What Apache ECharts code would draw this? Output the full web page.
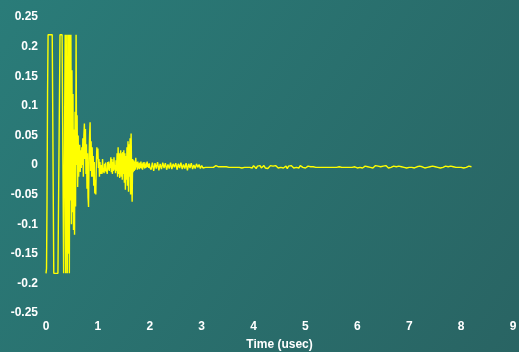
<!DOCTYPE html>
<html>
<head>
<meta charset="utf-8">
<script src="https://cdn.jsdelivr.net/npm/echarts@6/dist/echarts.min.js"></script>
<style>
html,body{margin:0;padding:0;}
#c{width:519px;height:352px;}
</style>
</head>
<body>
<div id="c"></div>
<script>
// Sample grid: early segment every 0.01 usec from 0 to 2.00
var earlyStart = 0, earlyStep = 0.01;
var earlyValues = [
-0.183,-0.175,-0.06,0.12,0.22,0.22,0.22,0.22,0.22,0.22,
0.22,0.22,0.22,0.22,0.22,-0.183,-0.183,-0.183,-0.183,-0.183,
-0.183,-0.183,-0.183,-0.183,-0.183,-0.183,-0.183,0.22,0.22,0.22,
0.22,0.22,0.22,0.22,-0.183,-0.183,-0.183,0.22,-0.183,0.22,
0.22,-0.183,0.22,-0.15,0.22,-0.183,0.22,-0.06,0.22,-0.1,
0.16,-0.08,0.12,-0.11,0.06,-0.118,0.09,-0.07,0.22,0.0,
0.084,-0.037,0.05,-0.02,0.02,0.034,-0.012,0.025,-0.005,0.03,
0.0,0.045,-0.02,0.05,0.07,0.01,0.061,-0.015,0.035,-0.04,
0.02,-0.055,-0.071,0.01,0.05,0.072,-0.01,0.04,-0.02,0.03,
-0.02,0.015,-0.035,0.005,-0.048,-0.025,-0.05,0.0,0.03,0.01,
0.028,-0.005,0.01,-0.02,0.005,-0.015,-0.01,0.0,-0.015,0.01,
-0.012,-0.005,-0.014,0.002,-0.01,0.004,-0.012,-0.006,-0.015,0.005,
-0.008,0.006,-0.01,0.002,-0.005,0.013,-0.012,0.01,-0.015,0.005,
-0.01,0.013,-0.008,0.0,-0.014,0.008,-0.01,0.02,-0.02,0.03,
-0.015,0.02,-0.022,0.01,0.025,-0.02,0.02,-0.025,0.022,-0.015,
0.025,-0.03,0.02,-0.042,0.015,-0.025,0.03,-0.035,0.04,-0.045,
0.035,-0.02,0.045,-0.05,0.053,-0.01,-0.062,0.01,-0.012,0.008,
-0.01,0.006,-0.008,0.012,-0.004,0.005,-0.008,0.006,-0.006,0.003,
-0.007,0.004,-0.005,0.006,-0.006,0.002,-0.008,0.004,-0.004,0.005,
-0.006,0.001,-0.005,0.004,-0.004,0.006,-0.003,0.002,-0.005,0.003,
-0.004
];
// Late segment every 0.025 usec from 2.025 to 8.2
var lateStart = 2.025, lateStep = 0.025;
var lateValues = [
-0.008,0.004,-0.01,0.003,-0.006,0.005,-0.009,0.002,-0.007,0.004,
-0.005,0.003,-0.008,0.001,-0.006,0.004,-0.007,0.002,-0.004,0.003,
-0.008,0.002,-0.005,0.004,-0.007,0.001,-0.006,0.003,-0.009,0.002,
-0.005,0.003,-0.007,0.0,-0.006,0.002,-0.004,0.001,-0.006,-0.001,
-0.005,-0.002,
-0.004,-0.003,-0.004,-0.002,-0.004,-0.003,-0.004,-0.003,-0.001,-0.004,
-0.003,-0.004,-0.003,-0.005,-0.003,-0.004,-0.003,-0.002,-0.004,-0.003,
-0.004,-0.003,-0.004,-0.001,-0.004,-0.003,-0.004,-0.003,-0.005,-0.003,
-0.004,-0.002,-0.004,-0.003,-0.004,
-0.002,-0.005,-0.001,-0.004,-0.006,-0.002,-0.004,-0.001,-0.005,-0.003,
-0.001,-0.005,-0.002,-0.006,-0.003,-0.001,-0.004,-0.002,-0.005,-0.001,
-0.003,-0.005,-0.002,-0.004,-0.001,-0.005,-0.003,-0.002,-0.006,-0.002,
-0.004,-0.001,-0.003,-0.005,-0.002,-0.004,-0.002,-0.005,-0.001,-0.003,
-0.004,-0.002,-0.005,-0.003,-0.002,-0.004,-0.003,-0.004,-0.003,
-0.004,-0.004,-0.004,-0.004,-0.004,-0.004,-0.004,-0.004,-0.004,-0.004,
-0.004,-0.004,-0.004,-0.004,-0.004,-0.004,-0.004,-0.004,-0.004,-0.003,
-0.004,-0.004,-0.004,-0.004,-0.004,-0.004,-0.004,-0.004,-0.004,-0.004,
-0.004,-0.003,
-0.003,-0.005,-0.002,-0.004,-0.001,-0.005,-0.003,-0.002,-0.004,-0.003,
-0.001,-0.004,-0.002,-0.005,-0.003,-0.001,-0.004,-0.002,-0.004,-0.003,
-0.005,-0.002,-0.004,-0.001,-0.003,-0.005,-0.002,-0.004,-0.003,-0.002,
-0.004,-0.003,-0.005,-0.002,-0.004,-0.003,-0.001,-0.004,-0.002,-0.005,
-0.003,-0.004,-0.002,-0.004,-0.003,-0.005,-0.002,-0.003,-0.004,-0.002,
-0.004,-0.003,-0.002,-0.005,-0.003,-0.004,-0.002,-0.003,-0.005,-0.002,
-0.004,-0.003,-0.002,-0.004,-0.003,-0.005,-0.002,-0.004,-0.003,-0.002,
-0.004,-0.003,-0.005,-0.002,-0.004,-0.003,-0.002,-0.004,-0.003,-0.004,
-0.002,-0.004,-0.003,-0.005,-0.002,-0.004,-0.003,-0.002,-0.004,-0.003
];
var xMin = 0, xMax = 9, xInterval = 1;
var yMin = -0.25, yMax = 0.25, yInterval = 0.05;
var xName = 'Time (usec)';

var data = [];
earlyValues.forEach(function (v, i) { data.push([+(earlyStart + i * earlyStep).toFixed(4), v]); });
lateValues.forEach(function (v, i) { data.push([+(lateStart + i * lateStep).toFixed(4), v]); });

var chart = echarts.init(document.getElementById('c'));
var labelStyle = { color: '#ffffff', fontWeight: 'bold', fontSize: 12, fontFamily: 'Liberation Sans, Arial, sans-serif' };
chart.setOption({
  backgroundColor: new echarts.graphic.LinearGradient(0, 0, 1, 1, [
    { offset: 0, color: '#2a7c79' },
    { offset: 1, color: '#296463' }
  ]),
  animation: false,
  grid: { left: 46, right: 6, top: 17, bottom: 39, containLabel: false, outerBoundsMode: 'none' },
  xAxis: {
    type: 'value', min: xMin, max: xMax, interval: xInterval,
    name: xName, nameLocation: 'middle', nameGap: 26,
    nameTextStyle: labelStyle,
    axisLine: { show: false }, axisTick: { show: false }, splitLine: { show: false },
    axisLabel: Object.assign({ margin: 8 }, labelStyle)
  },
  yAxis: {
    type: 'value', min: yMin, max: yMax, interval: yInterval,
    axisLine: { show: false }, axisTick: { show: false }, splitLine: { show: false },
    axisLabel: Object.assign({ margin: 8, formatter: function (v) { return String(+v.toFixed(2)); } }, labelStyle)
  },
  series: [{
    type: 'line', data: data, showSymbol: false, symbol: 'none',
    lineStyle: { color: '#ffff00', width: 1.4 },
    itemStyle: { color: '#ffff00' }
  }]
});
</script>
</body>
</html>
